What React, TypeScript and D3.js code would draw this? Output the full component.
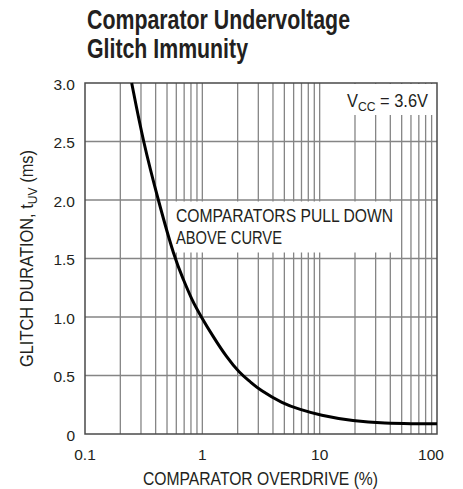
import { useEffect, useRef } from "react";
import * as d3 from "d3";

// curve: overdrive (%) vs glitch duration (ms)
const overdrive = [0.25, 0.313, 0.42, 0.58, 0.69, 0.81, 0.98, 1.24, 1.6, 2.08, 2.54, 3.08, 4.87, 6.76, 10, 19.2, 37, 60, 100];
const glitchMs = [3.0, 2.5, 2.0, 1.5, 1.32, 1.15, 1.0, 0.83, 0.66, 0.52, 0.45, 0.376, 0.26, 0.21, 0.16, 0.11, 0.09, 0.088, 0.088];

const yTicks = [0, 0.5, 1.0, 1.5, 2.0, 2.5, 3.0];
const xTicks = [0.1, 1, 10, 100];
const titleLines = ["Comparator Undervoltage", "Glitch Immunity"];
const titleWidths = [263, 161];

const FONT = "'Liberation Sans', Arial, sans-serif";

export default function App() {
  const ref = useRef<SVGSVGElement>(null);

  useEffect(() => {
    const svg = d3.select(ref.current);
    svg.selectAll("*").remove();

    const width = 463;
    const height = 489;
    const margin = { top: 83, right: 26, bottom: 55, left: 85 };

    const x = d3.scaleLog().domain([0.1, 100]).range([margin.left, width - margin.right]);
    const y = d3.scaleLinear().domain([0, 3]).range([height - margin.bottom, margin.top]);

    // title (condensed look via textLength)
    svg.append("g")
      .selectAll("text")
      .data(titleLines)
      .join("text")
      .attr("x", 87)
      .attr("y", (d, i) => 29 + i * 29)
      .attr("font-family", FONT)
      .attr("font-weight", "bold")
      .attr("font-size", 27)
      .attr("fill", "#231f20")
      .attr("textLength", (d, i) => titleWidths[i])
      .attr("lengthAdjust", "spacingAndGlyphs")
      .text(d => d);

    // grid
    const minor: number[] = [];
    for (let dec = 0.1; dec < 100; dec *= 10) {
      for (let k = 2; k <= 9; k++) minor.push(+(dec * k).toPrecision(3));
    }
    const grid = svg.append("g").attr("stroke", "#858585").attr("stroke-width", 1.3);
    grid.selectAll("line.v")
      .data([...minor, 1, 10])
      .join("line")
      .attr("class", "v")
      .attr("x1", d => x(d))
      .attr("x2", d => x(d))
      .attr("y1", y(3))
      .attr("y2", y(0));
    grid.selectAll("line.h")
      .data(yTicks.slice(1, -1))
      .join("line")
      .attr("class", "h")
      .attr("x1", x(0.1))
      .attr("x2", x(100))
      .attr("y1", d => y(d))
      .attr("y2", d => y(d));

    // white boxes behind the notes
    svg.append("rect")
      .attr("x", 345).attr("y", y(3) + 1)
      .attr("width", x(100) - 345 - 1).attr("height", 31)
      .attr("fill", "white");
    svg.append("rect")
      .attr("x", 172).attr("y", y(2) + 1.5)
      .attr("width", 226).attr("height", 51)
      .attr("fill", "white");

    // frame
    svg.append("rect")
      .attr("x", x(0.1)).attr("y", y(3))
      .attr("width", x(100) - x(0.1)).attr("height", y(0) - y(3))
      .attr("fill", "none")
      .attr("stroke", "#4a4a4a")
      .attr("stroke-width", 1.5);

    // curve
    const line = d3.line<number>()
      .x((d, i) => x(overdrive[i]))
      .y(d => y(d))
      .curve(d3.curveBasis);
    svg.append("path")
      .datum(glitchMs)
      .attr("fill", "none")
      .attr("stroke", "#000")
      .attr("stroke-width", 3)
      .attr("d", line);

    // text
    const txt = svg.append("g")
      .attr("font-family", FONT)
      .attr("font-size", 16)
      .attr("fill", "#231f20");
    txt.selectAll("text.yt")
      .data(yTicks)
      .join("text")
      .attr("class", "yt")
      .attr("x", 75)
      .attr("y", d => y(d) + 6.5)
      .attr("text-anchor", "end")
      .attr("font-size", 15.5)
      .text(d => (d === 0 ? "0" : d.toFixed(1)));
    txt.selectAll("text.xt")
      .data(xTicks)
      .join("text")
      .attr("class", "xt")
      .attr("x", d => x(d) - (d === 100 ? 6 : 0))
      .attr("y", 460)
      .attr("text-anchor", "middle")
      .attr("font-size", 15.5)
      .text(d => String(d));

    const big = 17.5;
    txt.append("text")
      .attr("x", 143)
      .attr("y", 485)
      .attr("font-size", big)
      .attr("textLength", 235)
      .attr("lengthAdjust", "spacingAndGlyphs")
      .text("COMPARATOR OVERDRIVE (%)");

    const yl = txt.append("text")
      .attr("transform", `translate(33, 367) rotate(-90)`)
      .attr("font-size", big)
      .attr("textLength", 217)
      .attr("lengthAdjust", "spacingAndGlyphs");
    yl.append("tspan").text("GLITCH DURATION, t");
    yl.append("tspan").attr("font-size", 13).attr("dy", 4).text("UV");
    yl.append("tspan").attr("dy", -4).text(" (ms)");

    const vcc = txt.append("text")
      .attr("x", 347).attr("y", 106.5)
      .attr("font-size", big)
      .attr("textLength", 81)
      .attr("lengthAdjust", "spacingAndGlyphs");
    vcc.append("tspan").text("V");
    vcc.append("tspan").attr("font-size", 13).attr("dy", 4).text("CC");
    vcc.append("tspan").attr("dy", -4).text(" = 3.6V");

    txt.append("text").attr("x", 176).attr("y", 222)
      .attr("font-size", big)
      .attr("textLength", 217)
      .attr("lengthAdjust", "spacingAndGlyphs")
      .text("COMPARATORS PULL DOWN");
    txt.append("text").attr("x", 176).attr("y", 243.5)
      .attr("font-size", big)
      .attr("textLength", 106)
      .attr("lengthAdjust", "spacingAndGlyphs")
      .text("ABOVE CURVE");
  }, []);

  return (
    <svg
      ref={ref}
      width={463}
      height={489}
      style={{ position: "absolute", left: 0, top: 0, background: "white" }}
    />
  );
}
